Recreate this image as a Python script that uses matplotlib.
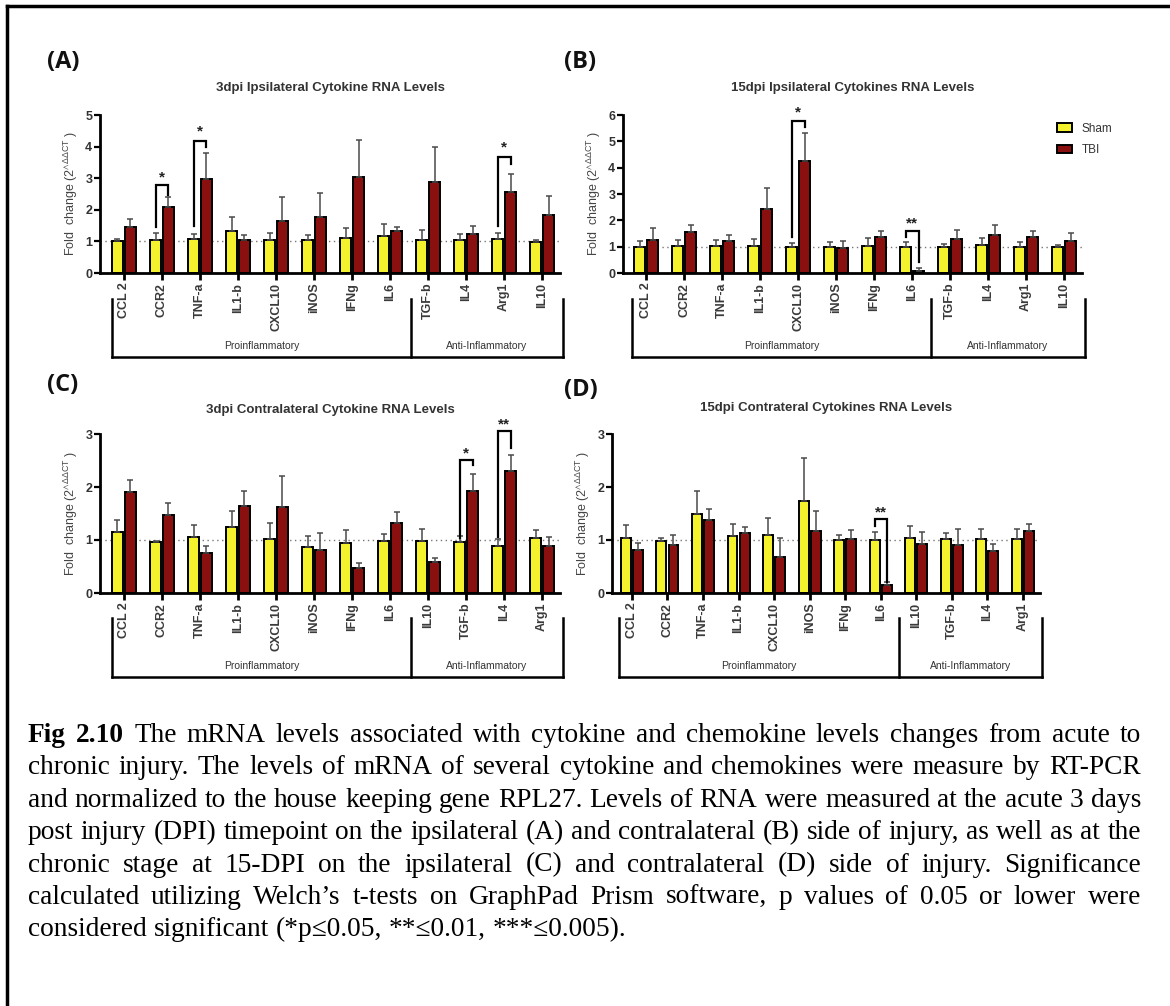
import matplotlib
matplotlib.use("Agg")
import matplotlib.pyplot as plt
from matplotlib.lines import Line2D
import numpy as np

plt.rcParams['font.family'] = ['Liberation Sans', 'DejaVu Sans']
plt.rcParams['mathtext.default'] = 'regular'

W, H = 1170, 1006

# cytokine panels: labels, means and upper SEM for sham / TBI
labels_ipsi = ["CCL 2", "CCR2", "TNF-a", "IL1-b", "CXCL10", "iNOS", "IFNg", "IL6",
               "TGF-b", "IL4", "Arg1", "IL10"]
labels_contra = ["CCL 2", "CCR2", "TNF-a", "IL1-b", "CXCL10", "iNOS", "IFNg", "IL6",
                 "IL10", "TGF-b", "IL4", "Arg1"]

sham_a = [1.00, 1.03, 1.07, 1.33, 1.03, 1.03, 1.11, 1.17, 1.06, 1.03, 1.07, 0.99]
sham_a_err = [0.08, 0.24, 0.17, 0.43, 0.24, 0.18, 0.31, 0.38, 0.29, 0.21, 0.21, 0.07]
tbi_a = [1.45, 2.09, 2.99, 1.06, 1.63, 1.77, 3.05, 1.33, 2.87, 1.24, 2.57, 1.82]
tbi_a_err = [0.27, 0.30, 0.80, 0.14, 0.77, 0.75, 1.17, 0.12, 1.11, 0.26, 0.55, 0.63]

sham_b = [1.00, 1.04, 1.04, 1.04, 0.98, 0.98, 1.04, 0.98, 0.99, 1.06, 0.99, 0.98]
sham_b_err = [0.21, 0.20, 0.20, 0.27, 0.17, 0.20, 0.30, 0.18, 0.11, 0.26, 0.19, 0.08]
tbi_b = [1.26, 1.57, 1.20, 2.42, 4.25, 0.96, 1.36, 0.08, 1.31, 1.46, 1.36, 1.20]
tbi_b_err = [0.45, 0.24, 0.25, 0.79, 1.07, 0.24, 0.22, 0.12, 0.33, 0.35, 0.24, 0.32]

sham_c = [1.15, 0.97, 1.06, 1.24, 1.01, 0.86, 0.94, 0.99, 0.99, 0.96, 0.89, 1.04]
sham_c_err = [0.23, 0.02, 0.23, 0.30, 0.31, 0.22, 0.25, 0.13, 0.21, 0.11, 0.12, 0.14]
tbi_c = [1.90, 1.48, 0.75, 1.65, 1.63, 0.82, 0.47, 1.32, 0.59, 1.92, 2.30, 0.89]
tbi_c_err = [0.24, 0.22, 0.13, 0.27, 0.57, 0.32, 0.10, 0.20, 0.07, 0.33, 0.31, 0.17]

sham_d = [1.04, 0.99, 1.50, 1.07, 1.09, 1.73, 1.00, 1.00, 1.04, 1.02, 1.02, 1.02]
sham_d_err = [0.24, 0.04, 0.42, 0.23, 0.33, 0.81, 0.09, 0.15, 0.23, 0.12, 0.19, 0.19]
tbi_d = [0.82, 0.90, 1.37, 1.14, 0.67, 1.17, 1.02, 0.16, 0.93, 0.90, 0.80, 1.17]
tbi_d_err = [0.13, 0.19, 0.22, 0.10, 0.37, 0.38, 0.17, 0.04, 0.22, 0.30, 0.12, 0.14]

# significance brackets: (group index, sham leg, top, tbi leg, star height, stars)
sig_a = [(1, 1.45, 2.78, 2.46, 3.02, "*"), (2, 1.50, 4.19, 3.98, 4.48, "*"),
         (10, 1.50, 3.68, 3.45, 3.96, "*")]
sig_b = [(4, 1.36, 5.78, 5.54, 6.08, "*"), (7, 1.36, 1.59, 0.41, 1.88, "**")]
sig_c = [(9, 1.04, 2.51, 2.41, 2.64, "*"), (10, 1.06, 3.06, 2.74, 3.18, "**")]
sig_d = [(7, 1.26, 1.40, 0.20, 1.52, "**")]

titles = ["3dpi Ipsilateral Cytokine RNA Levels",
          "15dpi Ipsilateral Cytokines RNA Levels",
          "3dpi Contralateral Cytokine RNA Levels",
          "15dpi Contrateral Cytokines RNA Levels"]

SHAM = "#f4f22c"
TBI = "#8a0f0f"


def fx(px):
    return px / W


def fy(py):
    return 1 - py / H


fig = plt.figure(figsize=(W / 100, H / 100), dpi=100)

# outer frame (top and left edges)
fig.add_artist(Line2D([fx(7), 1.0], [fy(6), fy(6)], color="black", lw=2.5))
fig.add_artist(Line2D([fx(7), fx(7)], [fy(6), 0.0], color="black", lw=2.5))

# axes boxes in pixels: left, right, top(y max), bottom(y=0)
panels = [
    dict(box=(100, 560, 115, 273), ymax=5, labels=labels_ipsi, sham=sham_a, se=sham_a_err,
         tbi=tbi_a, te=tbi_a_err, sig=sig_a, xl=(-0.63, 11.47),
         grp=(112, 411, 563, 299, 357), tag="(A)", tagpos=(47, 62), tpos=(328, 88)),
    dict(box=(623, 1082, 115, 273), ymax=6, labels=labels_ipsi, sham=sham_b, se=sham_b_err,
         tbi=tbi_b, te=tbi_b_err, sig=sig_b, xl=(-0.61, 11.47),
         grp=(632, 931, 1085, 299, 357), tag="(B)", tagpos=(564, 62), tpos=(852, 88)),
    dict(box=(100, 560, 434, 593), ymax=3, labels=labels_contra, sham=sham_c, se=sham_c_err,
         tbi=tbi_c, te=tbi_c_err, sig=sig_c, xl=(-0.63, 11.47),
         grp=(112, 411, 563, 618, 677), tag="(C)", tagpos=(47, 385), tpos=(330, 410)),
    dict(box=(612, 1040, 434, 593), ymax=3, labels=labels_contra, sham=sham_d, se=sham_d_err,
         tbi=tbi_d, te=tbi_d_err, sig=sig_d, xl=(-0.56, 11.48),
         grp=(619, 899, 1042, 618, 677), tag="(D)", tagpos=(564, 390), tpos=(826, 408)),
]

for i, p in enumerate(panels):
    l, r, t, b = p["box"]
    ax = fig.add_axes([fx(l), fy(b), fx(r - l), (b - t) / H])
    x = np.arange(len(p["labels"]))
    bw = 0.28
    zeros = np.zeros(len(x))
    bs = ax.bar(x - 0.17, p["sham"], bw, color=SHAM, edgecolor="black", lw=1.4,
                yerr=[zeros, p["se"]], capsize=2.5,
                error_kw=dict(ecolor="#4a4a4a", elinewidth=1.1, capthick=1.1), label="Sham")
    bt = ax.bar(x + 0.17, p["tbi"], bw, color=TBI, edgecolor="black", lw=1.4,
                yerr=[zeros, p["te"]], capsize=2.5,
                error_kw=dict(ecolor="#4a4a4a", elinewidth=1.1, capthick=1.1), label="TBI")
    ax.axhline(1, color="#777777", lw=1.0, ls=(0, (1, 2.5)), zorder=0)

    ax.set_xlim(*p["xl"])
    ax.set_ylim(0, p["ymax"])
    ax.set_yticks(range(0, p["ymax"] + 1))
    ax.set_xticks(x)
    ax.set_xticklabels(p["labels"], rotation=90, fontsize=9, fontweight="bold", color="#3a3a3a")
    for lab in ax.get_yticklabels():
        lab.set_fontsize(9)
        lab.set_fontweight("bold")
        lab.set_color("#333333")
    ax.tick_params(axis="x", length=5, width=2, pad=2)
    ax.tick_params(axis="y", length=4, width=1.6, pad=1.5)
    for s in ("top", "right"):
        ax.spines[s].set_visible(False)
    for s in ("left", "bottom"):
        ax.spines[s].set_linewidth(2)
    ax.set_ylabel(r"Fold  change (2$^{\wedge\Delta\Delta CT}$ )", fontsize=9, color="#444444",
                  labelpad=4)
    ax.set_title(titles[i], fontsize=9.5, fontweight="bold", color="#333333", pad=0,
                 y=(b - p["tpos"][1]) / (b - t), va="center")

    # significance brackets
    for g, y_l, y_top, y_r, y_star, stars in p["sig"]:
        ax.plot([g - 0.17, g - 0.17, g + 0.17, g + 0.17], [y_l, y_top, y_top, y_r],
                color="black", lw=1.6, clip_on=False, solid_joinstyle="miter")
        ax.text(g, y_star, stars, ha="center", va="center", fontsize=11, fontweight="bold",
                color="#222222", clip_on=False)

    # group brackets under the tick labels
    g0, g1, g2, gt, gb = p["grp"]
    for xx in (g0, g1, g2):
        fig.add_artist(Line2D([fx(xx), fx(xx)], [fy(gt), fy(gb)], color="black", lw=1.8))
    fig.add_artist(Line2D([fx(g0), fx(g2)], [fy(gb), fy(gb)], color="black", lw=1.8))
    fig.text(fx((g0 + g1) / 2), fy(gb - 11), "Proinflammatory", ha="center", va="center",
             fontsize=7.5, color="#333333")
    fig.text(fx((g1 + g2) / 2), fy(gb - 11), "Anti-Inflammatory", ha="center", va="center",
             fontsize=7.5, color="#333333")

    fig.text(fx(p["tagpos"][0]), fy(p["tagpos"][1]), p["tag"], ha="left", va="center",
             fontsize=17, fontweight="bold", family=["Open Sans", "DejaVu Sans"],
             color="#111111")

    if i == 1:
        ax.legend(handles=[bs, bt], labels=["Sham", "TBI"], loc="upper left",
                  bbox_to_anchor=(fx(1046), fy(112)), bbox_transform=fig.transFigure,
                  frameon=False, fontsize=8.5, handlelength=1.3, handleheight=0.7,
                  labelspacing=0.8, handletextpad=0.8, labelcolor="#333333")

# caption, justified between two margins
caption = [
    "Fig 2.10 The mRNA levels associated with cytokine and chemokine levels changes from acute to",
    "chronic injury. The levels of mRNA of several cytokine and chemokines were measure by RT-PCR",
    "and normalized to the house keeping gene RPL27. Levels of RNA were measured at the acute 3 days",
    "post injury (DPI) timepoint on the ipsilateral (A) and contralateral (B) side of injury, as well as at the",
    "chronic stage at 15-DPI on the ipsilateral (C) and contralateral (D) side of injury. Significance",
    "calculated utilizing Welch\u2019s t-tests on GraphPad Prism software, p values of 0.05 or lower were",
    "considered significant (*p\u22640.05, **\u22640.01, ***\u22640.005).",
]
cap_x0, cap_x1 = 28, 1141
cap_y0, cap_dy = 742, 32.4
serif = ["Liberation Serif", "DejaVu Serif"]

renderer = fig.canvas.get_renderer()

# pick the font size so the widest line fits between the margins
probe = fig.text(0, 0, "", fontsize=16, family=serif)
widest = 0
for line in caption[:-1]:
    probe.set_text(line)
    widest = max(widest, probe.get_window_extent(renderer).width)
probe.remove()
cap_fs = 16 * (cap_x1 - cap_x0) / widest * 0.995

for n, line in enumerate(caption):
    words = line.split(" ")
    texts = []
    for k, wd in enumerate(words):
        bold = (n == 0 and k < 2)
        tt = fig.text(0, 0, wd, fontsize=cap_fs, family=serif, va="baseline", ha="left",
                      fontweight="bold" if bold else "normal", color="black")
        texts.append(tt)
    widths = [tt.get_window_extent(renderer).width for tt in texts]
    if n < len(caption) - 1:
        gap = (cap_x1 - cap_x0 - sum(widths)) / (len(words) - 1)
    else:
        gap = cap_fs * 100 / 72 * 0.25
    xpos = cap_x0
    ybase = cap_y0 + n * cap_dy
    for tt, wdt in zip(texts, widths):
        tt.set_position((fx(xpos), fy(ybase)))
        xpos += wdt + gap

fig.savefig("out.png", dpi=100, facecolor="white")
